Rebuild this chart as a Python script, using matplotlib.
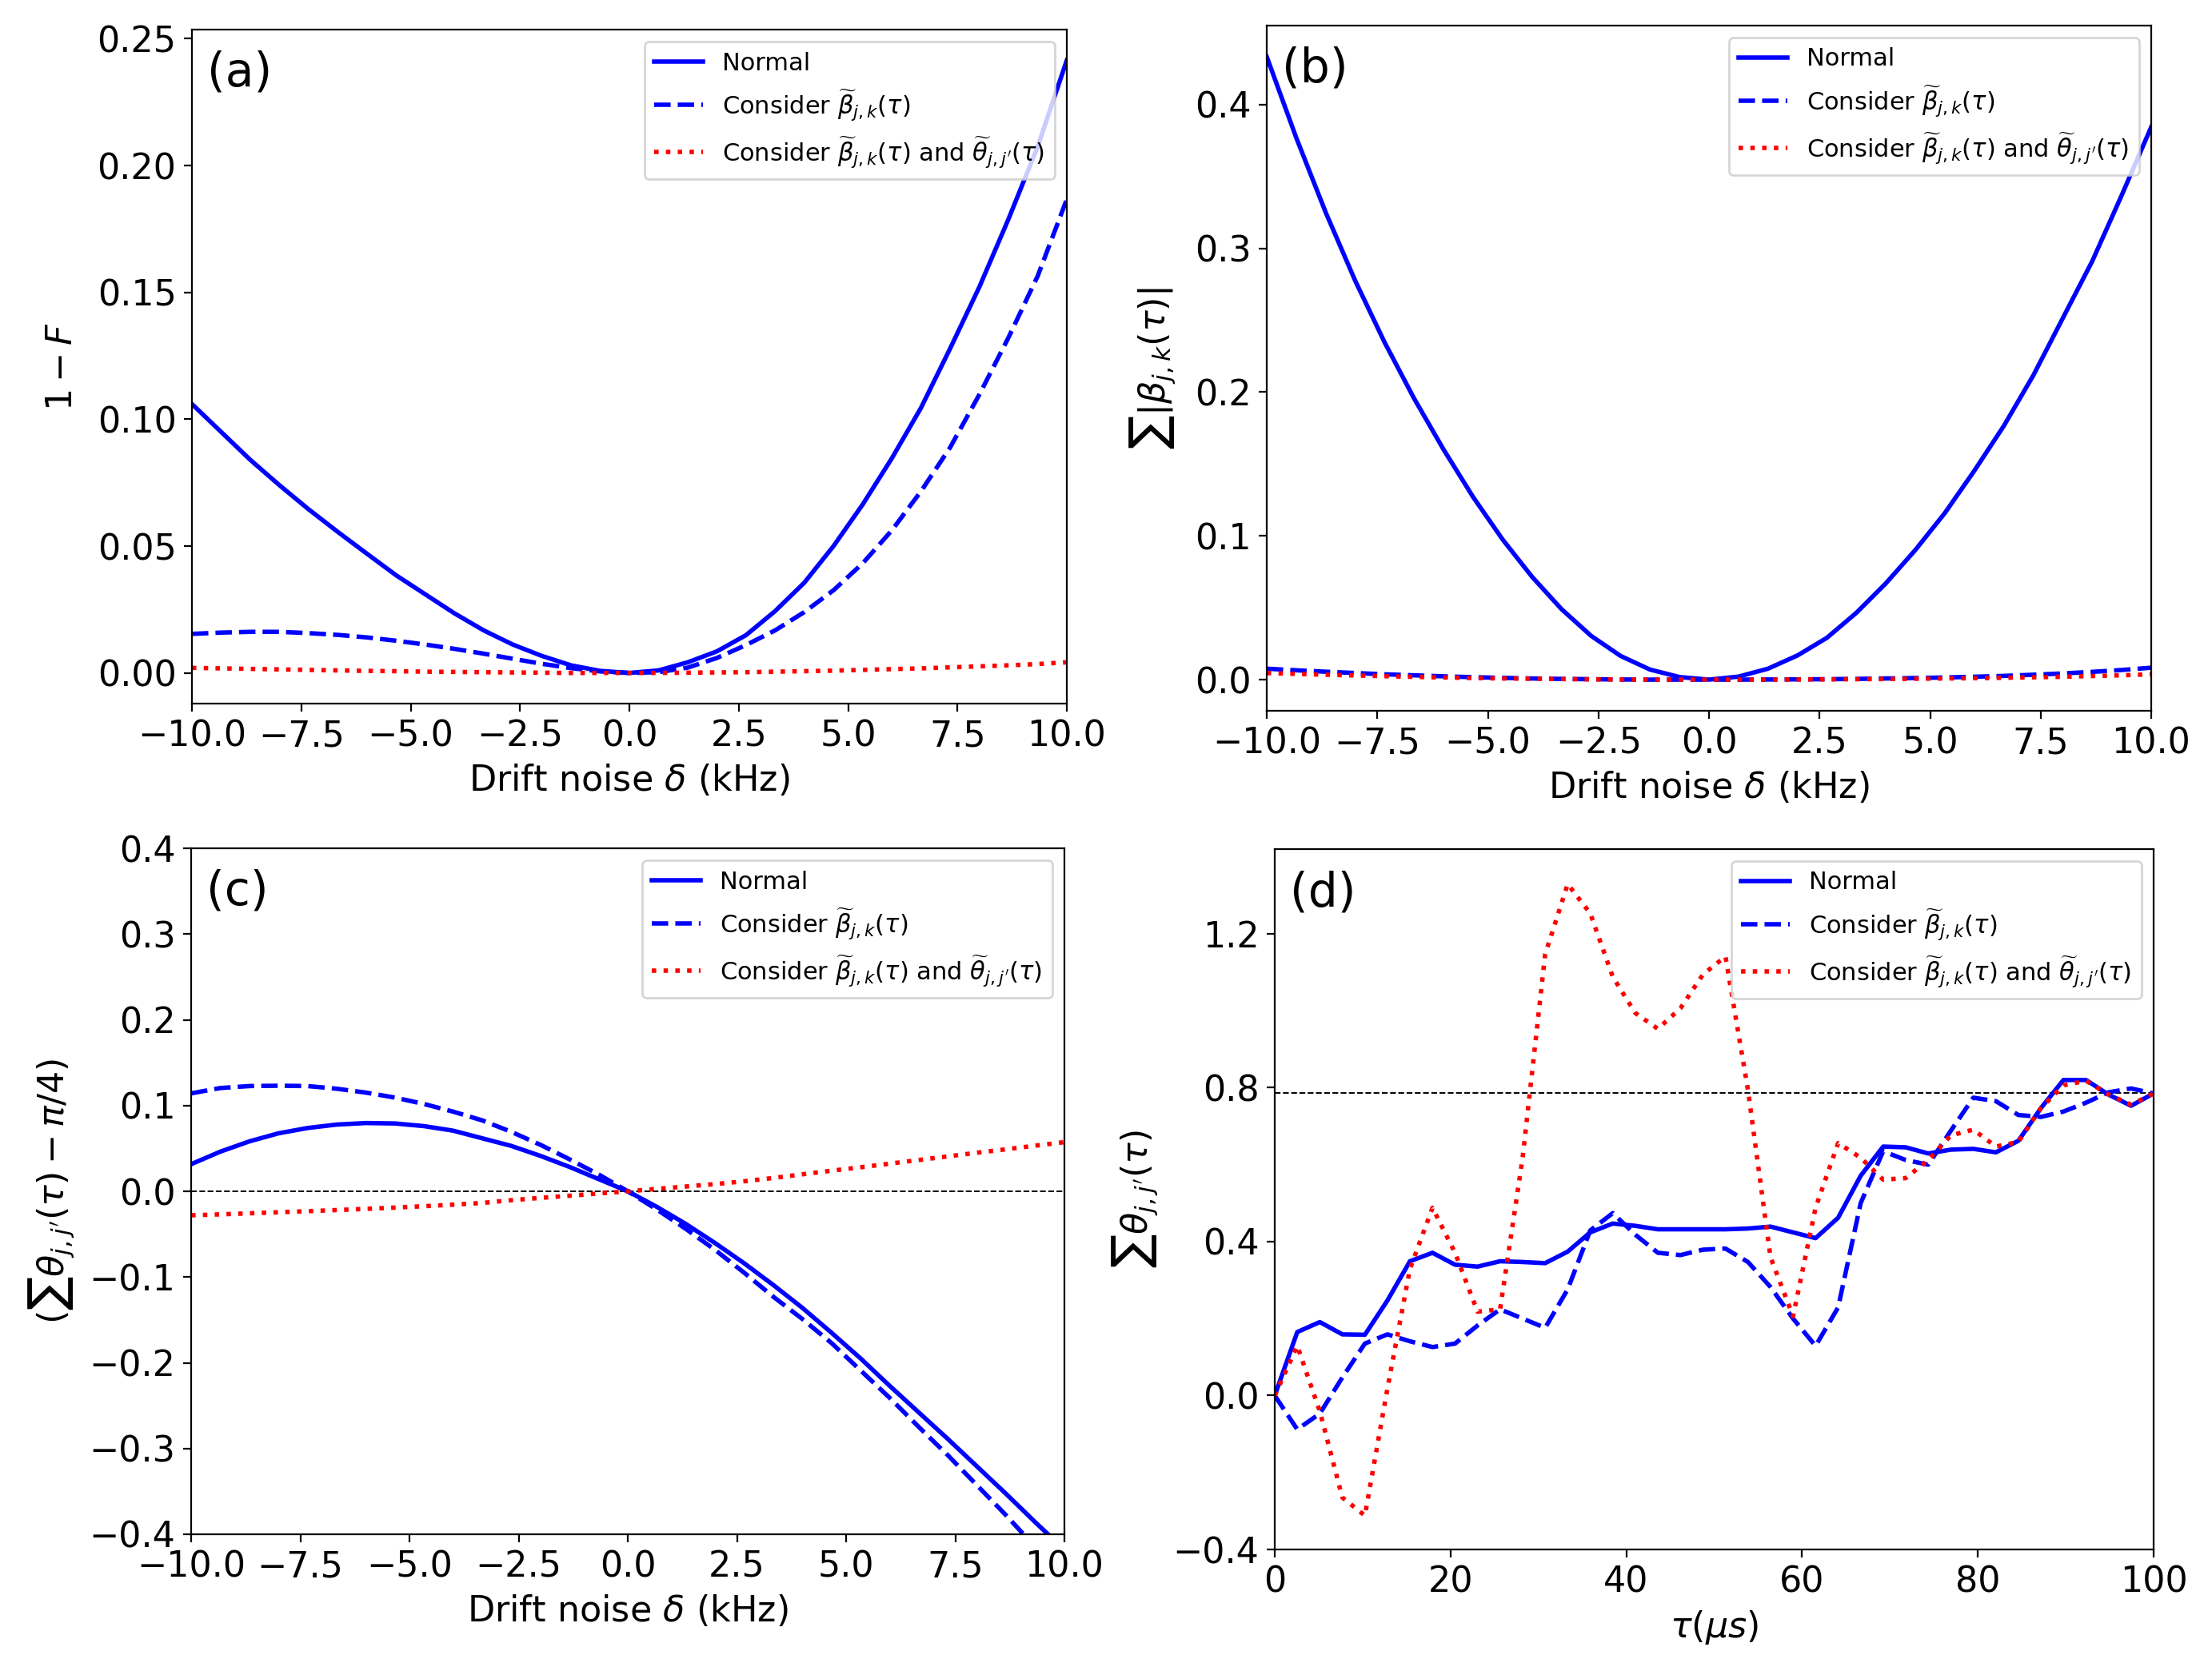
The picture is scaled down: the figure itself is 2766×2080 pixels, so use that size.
import numpy as np
import matplotlib
matplotlib.use('Agg')
import matplotlib.pyplot as plt
from matplotlib.patches import Rectangle

# drift noise grid (kHz) and evolution time grid (us)
delta = np.linspace(-10, 10, 31)
tau = np.linspace(0, 100, 40)

labels = ['Normal',
          r'Consider $\widetilde{\beta}_{j,k}(\tau)$',
          r'Consider $\widetilde{\beta}_{j,k}(\tau)$ and $\widetilde{\theta}_{j,j^{\prime}}(\tau)$']

# (a) infidelity 1-F
infid_normal = [0.1060, 0.0950, 0.0840, 0.0740, 0.0645, 0.0556, 0.0470, 0.0385, 0.0310, 0.0235,
                0.0168, 0.0112, 0.0067, 0.0030, 0.0008, 0.0000,
                0.0010, 0.0042, 0.0085, 0.0149, 0.0244, 0.0356, 0.0500, 0.0664, 0.0846, 0.1045,
                0.1279, 0.1521, 0.1789, 0.2074, 0.2415]
infid_beta = [0.0154, 0.0159, 0.0162, 0.0162, 0.0157, 0.0150, 0.0140, 0.0127, 0.0112, 0.0095,
              0.0076, 0.0056, 0.0036, 0.0019, 0.0006, 0.0000,
              0.0003, 0.0021, 0.0059, 0.0110, 0.0168, 0.0240, 0.0326, 0.0432, 0.0562, 0.0716,
              0.0889, 0.1097, 0.1322, 0.1564, 0.1867]
infid_both = [0.0020, 0.0018, 0.0016, 0.0014, 0.0012, 0.0010, 0.0008, 0.0007, 0.0005, 0.0004,
              0.0003, 0.0002, 0.0001, 0.0000, 0.0000, 0.0000,
              0.0000, 0.0001, 0.0002, 0.0003, 0.0005, 0.0007, 0.0009, 0.0012, 0.0015, 0.0018,
              0.0022, 0.0026, 0.0030, 0.0035, 0.0042]

# (b) sum |beta_jk|
beta_normal = [0.4333, 0.3770, 0.3250, 0.2775, 0.2345, 0.1955, 0.1600, 0.1270, 0.0975, 0.0715,
               0.0490, 0.0305, 0.0165, 0.0070, 0.0018, 0.0000,
               0.0021, 0.0076, 0.0168, 0.0291, 0.0465, 0.0670, 0.0902, 0.1159, 0.1453, 0.1765,
               0.2116, 0.2514, 0.2911, 0.3370, 0.3844]
beta_beta = [0.0076, 0.0065, 0.0055, 0.0046, 0.0037, 0.0030, 0.0023, 0.0017, 0.0012, 0.0008,
             0.0005, 0.0003, 0.0001, 0.0000, 0.0000, 0.0000,
             0.0000, 0.0001, 0.0002, 0.0003, 0.0005, 0.0008, 0.0011, 0.0015, 0.0020, 0.0026,
             0.0034, 0.0043, 0.0054, 0.0067, 0.0083]
beta_both = [0.0046, 0.0040, 0.0034, 0.0029, 0.0024, 0.0019, 0.0015, 0.0011, 0.0008, 0.0006,
             0.0004, 0.0002, 0.0001, 0.0000, 0.0000, 0.0000,
             0.0000, 0.0000, 0.0001, 0.0002, 0.0003, 0.0004, 0.0006, 0.0008, 0.0010, 0.0013,
             0.0016, 0.0020, 0.0025, 0.0030, 0.0037]

# (c) sum theta - pi/4
theta_normal = [0.0316, 0.0462, 0.0582, 0.0676, 0.0738, 0.0778, 0.0796, 0.0791, 0.0760, 0.0707,
                0.0618, 0.0529, 0.0413, 0.0284, 0.0142, 0.0000,
                -0.0182, -0.0382, -0.0604, -0.0840, -0.1093, -0.1360, -0.1650, -0.1950, -0.2270,
                -0.2580, -0.2890, -0.3210, -0.3530, -0.3860, -0.4180]
theta_beta = [0.1142, 0.1204, 0.1227, 0.1231, 0.1227, 0.1196, 0.1151, 0.1093, 0.1018, 0.0929,
              0.0827, 0.0693, 0.0542, 0.0373, 0.0196, 0.0000,
              -0.0213, -0.0440, -0.0684, -0.0950, -0.1230, -0.1490, -0.1770, -0.2090, -0.2410,
              -0.2750, -0.3080, -0.3430, -0.3780, -0.4150, -0.4520]
theta_both = [-0.0280, -0.0269, -0.0257, -0.0245, -0.0232, -0.0219, -0.0205, -0.0190, -0.0174, -0.0156,
              -0.0136, -0.0104, -0.0077, -0.0052, -0.0026, 0.0000,
              0.0028, 0.0056, 0.0084, 0.0117, 0.0155, 0.0198, 0.0240, 0.0280, 0.0322,
              0.0365, 0.0407, 0.0450, 0.0490, 0.0532, 0.0573]

# (d) sum theta vs tau
phase_normal = [0.000, 0.165, 0.191, 0.159, 0.158, 0.247, 0.349, 0.371, 0.340, 0.335,
                0.349, 0.347, 0.344, 0.374, 0.424, 0.447, 0.441, 0.432, 0.432, 0.432,
                0.432, 0.434, 0.439, 0.424, 0.409, 0.462, 0.571, 0.647, 0.645, 0.629,
                0.639, 0.641, 0.632, 0.662, 0.747, 0.820, 0.820, 0.782, 0.753, 0.785]
phase_beta = [0.000, -0.088, -0.047, 0.047, 0.135, 0.159, 0.141, 0.126, 0.135, 0.182,
              0.224, 0.200, 0.176, 0.276, 0.429, 0.474, 0.418, 0.371, 0.365, 0.379,
              0.382, 0.347, 0.282, 0.200, 0.129, 0.229, 0.500, 0.635, 0.612, 0.600,
              0.688, 0.774, 0.765, 0.729, 0.724, 0.738, 0.761, 0.788, 0.798, 0.785]
phase_both = [0.000, 0.129, -0.041, -0.265, -0.312, 0.018, 0.329, 0.488, 0.371, 0.218,
              0.224, 0.618, 1.147, 1.329, 1.253, 1.088, 0.994, 0.953, 1.006, 1.094,
              1.141, 0.794, 0.359, 0.206, 0.488, 0.656, 0.618, 0.561, 0.565, 0.612,
              0.676, 0.691, 0.647, 0.659, 0.747, 0.806, 0.818, 0.782, 0.756, 0.785]

W, H = 2766, 2080
fig = plt.figure(figsize=(W / 200, H / 200), dpi=200)


def add_ax(l, r, t, b):
    return fig.add_axes([l / W, 1 - b / H, (r - l) / W, (b - t) / H])


def draw(ax, x, y1, y2, y3, tag):
    ax.plot(x, y1, 'b-', lw=2, label=labels[0])
    ax.plot(x, y2, 'b--', lw=2, label=labels[1])
    ax.plot(x, y3, 'r:', lw=2, label=labels[2])
    ax.legend(loc='upper right', fontsize=11)
    ax.tick_params(labelsize=16)
    ax.text(0.017, 0.97, tag, transform=ax.transAxes, fontsize=21, va='top', ha='left')


xt = np.arange(-10, 10.1, 2.5)

ax_a = add_ax(240, 1334, 37, 880)
draw(ax_a, delta, infid_normal, infid_beta, infid_both, '(a)')
ax_a.set_xlim(-10, 10)
ax_a.set_xticks(xt)
ax_a.set_yticks([0, 0.05, 0.10, 0.15, 0.20, 0.25])
ax_a.set_xlabel(r'Drift noise $\delta$ (kHz)', fontsize=16)
ax_a.set_ylabel(r'$1-F$', fontsize=16, labelpad=8)

ax_b = add_ax(1584, 2690, 32, 889)
draw(ax_b, delta, beta_normal, beta_beta, beta_both, '(b)')
ax_b.set_xlim(-10, 10)
ax_b.set_xticks(xt)
ax_b.set_yticks([0, 0.1, 0.2, 0.3, 0.4])
ax_b.set_xlabel(r'Drift noise $\delta$ (kHz)', fontsize=16)
ax_b.set_ylabel(r'$\sum|\beta_{j,k}(\tau)|$', fontsize=16, labelpad=8)

ax_c = add_ax(239, 1331, 1061, 1919)
ax_c.axhline(0, color='k', ls='--', lw=0.7)
draw(ax_c, delta, theta_normal, theta_beta, theta_both, '(c)')
ax_c.set_xlim(-10, 10)
ax_c.set_ylim(-0.4, 0.4)
ax_c.set_xticks(xt)
ax_c.set_yticks(np.arange(-0.4, 0.41, 0.1))
ax_c.set_xlabel(r'Drift noise $\delta$ (kHz)', fontsize=16)
ax_c.set_ylabel(r'$(\sum\theta_{j,j^{\prime}}(\tau)-\pi/4)$', fontsize=16, labelpad=6)

ax_d = add_ax(1594, 2693, 1062, 1938)
ax_d.axhline(np.pi / 4, color='k', ls='--', lw=0.7)
draw(ax_d, tau, phase_normal, phase_beta, phase_both, '(d)')
ax_d.set_xlim(0, 100)
ax_d.set_ylim(-0.4, 1.42)
ax_d.set_yticks([-0.4, 0.0, 0.4, 0.8, 1.2])
ax_d.set_xlabel(r'$\tau(\mu s)$', fontsize=16)
ax_d.set_ylabel(r'$\sum\theta_{j,j^{\prime}}(\tau)$', fontsize=16, labelpad=6)

# the left panels were cut at the middle of the sheet: hide the overhang of the last tick label
for y0, y1 in [(881, 1010), (1920, 2060)]:
    fig.add_artist(Rectangle((1383 / W, 1 - y1 / H), (1450 - 1383) / W, (y1 - y0) / H,
                             transform=fig.transFigure, color='white', zorder=10))

fig.savefig('out.png', dpi=200)
